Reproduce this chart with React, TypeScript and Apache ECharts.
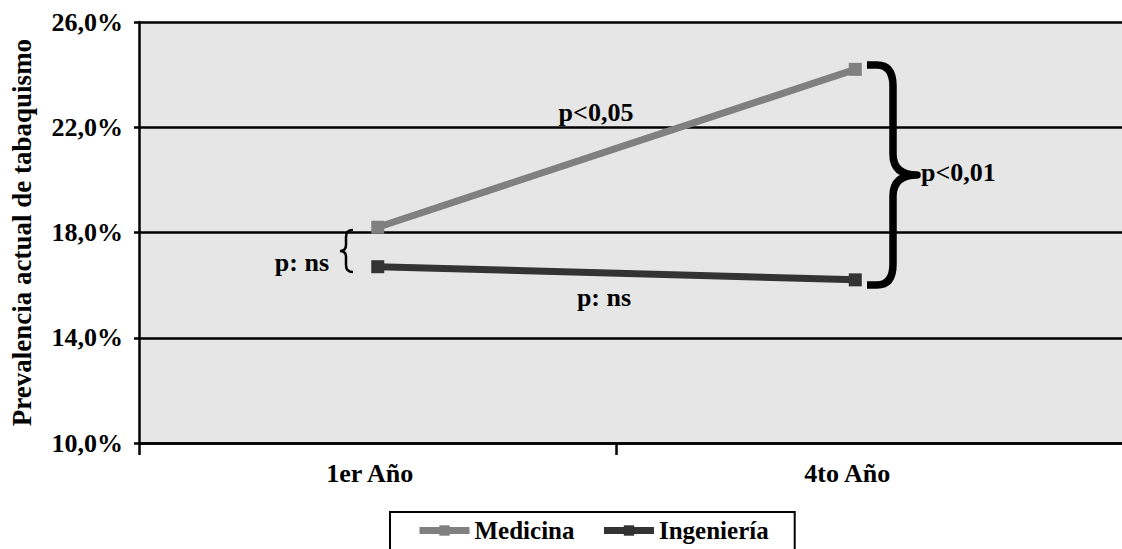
import React, { useEffect, useRef } from "react";
import * as echarts from "echarts";

const categories = ["1er Año", "4to Año"];
const medicina = [18.2, 24.2];
const ingenieria = [16.7, 16.2];
const seriesNames = ["Medicina", "Ingeniería"];
const yTicks = { min: 10, max: 26, interval: 4 };

const FONT = "'Liberation Serif', 'Times New Roman', serif";

echarts.graphic.registerShape(
  "bigBrace",
  echarts.graphic.extendPath(
    "M0,3 L10,3 Q26,3 26,24 L26,92 Q26,113 50,113 Q26,113 26,134 L26,202 Q26,223 10,223 L0,223",
    {}
  ) as any
);
echarts.graphic.registerShape(
  "smallBrace",
  echarts.graphic.extendPath(
    "M13,1 Q6,1 6,8 L6,16 Q6,22 0,22 Q6,22 6,28 L6,36 Q6,43 13,43",
    {}
  ) as any
);

export default function App() {
  const ref = useRef<HTMLDivElement>(null);
  useEffect(() => {
    if (!ref.current) return;
    const chart = echarts.init(ref.current, undefined, { renderer: "svg" });
    const unit = 478;
    const xMax = 984 / unit;
    const toXY = (vals: number[]) => vals.map((v, i) => [i + 0.5, v]);
    const textStyle = (x: number, y: number, text: string, align = "center") => ({
      type: "text",
      x,
      y,
      z: 100,
      style: {
        text,
        font: `bold 26px ${FONT}`,
        fill: "#000",
        align,
        verticalAlign: "middle",
      },
    });
    chart.setOption({
      animation: false,
      backgroundColor: "#fff",
      textStyle: { fontFamily: FONT },
      grid: {
        left: 138,
        right: 0,
        top: 22,
        bottom: 106,
        show: true,
        backgroundColor: "#e6e6e6",
        borderWidth: 0,
      },
      xAxis: {
        type: "value",
        min: 0,
        max: xMax,
        interval: 1,
        splitLine: { show: false },
        axisLine: { show: true, lineStyle: { color: "#000", width: 2.5 } },
        axisTick: {
          show: true,
          length: 12,
          lineStyle: { color: "#000", width: 2.5 },
          customValues: [0, 1],
        },
        axisLabel: {
          customValues: categories.map((_, i) => i + 0.5),
          formatter: (v: number) => categories[Math.floor(v)] ?? "",
          fontFamily: FONT,
          fontWeight: "bold",
          fontSize: 26,
          color: "#000",
          margin: 17,
          padding: [0, 16, 0, 0],
        },
      },
      yAxis: {
        type: "value",
        min: yTicks.min,
        max: yTicks.max,
        interval: yTicks.interval,
        name: "Prevalencia actual de tabaquismo",
        nameLocation: "middle",
        nameGap: 104,
        nameTextStyle: {
          fontFamily: FONT,
          fontWeight: "bold",
          fontSize: 27,
          color: "#000",
        },
        axisLine: { show: true, lineStyle: { color: "#000", width: 2.5 } },
        axisTick: { show: true, length: 5, lineStyle: { color: "#000", width: 2.5 } },
        splitLine: { show: true, lineStyle: { color: "#000", width: 2.5 } },
        axisLabel: {
          formatter: (v: number) => v.toFixed(1).replace(".", ",") + "%",
          fontFamily: FONT,
          fontWeight: "bold",
          fontSize: 26,
          color: "#000",
          margin: 16,
        },
      },
      legend: {
        left: 390,
        top: 512,
        data: seriesNames,
        backgroundColor: "#fff",
        borderColor: "#000",
        borderWidth: 2,
        borderRadius: 0,
        padding: [6, 26, 30, 26],
        itemGap: 26,
        itemWidth: 50,
        itemHeight: 13,
        lineStyle: { width: 7 },
        textStyle: {
          fontFamily: FONT,
          fontWeight: "bold",
          fontSize: 25,
          color: "#000",
        },
      },
      series: [
        {
          name: seriesNames[0],
          type: "line",
          data: toXY(medicina),
          symbol: "rect",
          symbolSize: 13,
          lineStyle: { color: "#808080", width: 7 },
          itemStyle: { color: "#808080" },
          z: 3,
        },
        {
          name: seriesNames[1],
          type: "line",
          data: toXY(ingenieria),
          symbol: "rect",
          symbolSize: 13,
          lineStyle: { color: "#333333", width: 7 },
          itemStyle: { color: "#333333" },
          z: 3,
        },
      ],
      graphic: [
        {
          type: "bigBrace",
          x: 867,
          y: 62,
          z: 100,
          style: { stroke: "#000", lineWidth: 7.5, fill: null, lineJoin: "round" },
        },
        {
          type: "smallBrace",
          x: 340,
          y: 229,
          z: 100,
          style: { stroke: "#000", lineWidth: 2.5, fill: null },
        },
        textStyle(596, 112, "p<0,05"),
        textStyle(329, 262, "p: ns", "right"),
        textStyle(604, 297, "p: ns"),
        textStyle(921, 172, "p<0,01", "left"),
      ],
    });
    return () => chart.dispose();
  }, []);
  return (
    <div
      ref={ref}
      style={{ position: "fixed", left: 0, top: 0, width: 1122, height: 549 }}
    />
  );
}
